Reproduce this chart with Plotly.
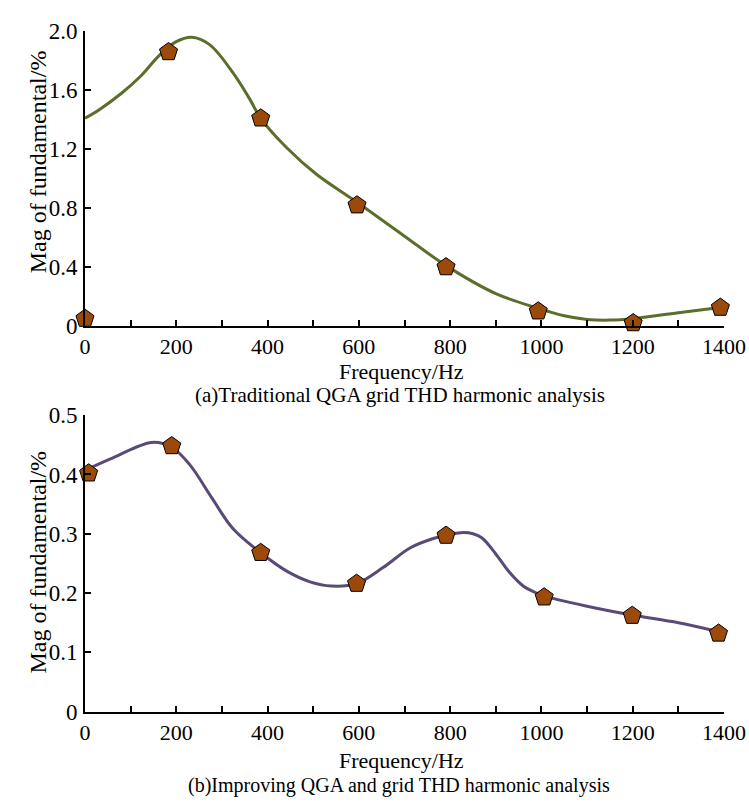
import plotly.graph_objects as go

# ---------------- data ----------------
# Panel (a): traditional QGA
a_marker_freq = [0, 183, 385, 596, 791, 993, 1201, 1392]
a_marker_mag = [0.05, 1.86, 1.41, 0.82, 0.40, 0.10, 0.02, 0.125]
a_curve_freq = [0, 32, 80, 120, 164, 200, 234, 273, 324, 361, 385, 442, 507,
                596, 700, 791, 900, 993, 1050, 1100, 1150, 1201, 1300, 1392]
a_curve_mag = [1.41, 1.47, 1.58, 1.69, 1.84, 1.93, 1.96, 1.91, 1.72, 1.54, 1.41,
               1.21, 1.03, 0.84, 0.61, 0.41, 0.22, 0.12, 0.07, 0.045, 0.04, 0.05,
               0.09, 0.125]

# Panel (b): improved QGA
b_marker_freq = [8, 190, 385, 595, 791, 1006, 1199, 1388]
b_marker_mag = [0.402, 0.448, 0.268, 0.216, 0.297, 0.193, 0.162, 0.132]
b_curve_freq = [0, 61, 146, 190, 229, 280, 324, 385, 442, 493, 540, 595, 653,
                712, 763, 800, 829, 850, 870, 900, 930, 960, 990, 1006, 1100,
                1199, 1300, 1388]
b_curve_mag = [0.407, 0.428, 0.454, 0.446, 0.417, 0.358, 0.309, 0.268, 0.237,
               0.219, 0.212, 0.216, 0.243, 0.276, 0.292, 0.299, 0.302, 0.300,
               0.293, 0.266, 0.235, 0.212, 0.200, 0.195, 0.178, 0.163, 0.150,
               0.135]

x_tickvals = [0, 200, 400, 600, 800, 1000, 1200, 1400]
x_ticktext = ["0", "200", "400", "600", "800", "1000", "1200", "1400"]
a_yticks = [0, 0.4, 0.8, 1.2, 1.6, 2.0]
a_yticktext = ["0", "0.4", "0.8", "1.2", "1.6", "2.0"]
b_yticks = [0, 0.1, 0.2, 0.3, 0.4, 0.5]
b_yticktext = ["0", "0.1", "0.2", "0.3", "0.4", "0.5"]

# ---------------- styles ----------------
W, H = 749, 811
FONT = "Liberation Serif"
FS = 22
MARKER_FILL = "#9c4a0a"
A_LINE = "#5b6e2c"
B_LINE = "#5a4a78"

fig = go.Figure()

fig.add_trace(go.Scatter(x=a_curve_freq, y=a_curve_mag, mode="lines",
                         line=dict(color=A_LINE, width=3, shape="spline", smoothing=1.0),
                         xaxis="x", yaxis="y", showlegend=False, hoverinfo="skip"))
fig.add_trace(go.Scatter(x=a_marker_freq, y=a_marker_mag, mode="markers",
                         marker=dict(symbol="pentagon", size=19, color=MARKER_FILL,
                                     line=dict(color="black", width=1)),
                         xaxis="x", yaxis="y", showlegend=False, cliponaxis=False))
fig.add_trace(go.Scatter(x=b_curve_freq, y=b_curve_mag, mode="lines",
                         line=dict(color=B_LINE, width=3, shape="spline", smoothing=1.0),
                         xaxis="x2", yaxis="y2", showlegend=False, hoverinfo="skip"))
fig.add_trace(go.Scatter(x=b_marker_freq, y=b_marker_mag, mode="markers",
                         marker=dict(symbol="pentagon", size=19, color=MARKER_FILL,
                                     line=dict(color="black", width=1)),
                         xaxis="x2", yaxis="y2", showlegend=False, cliponaxis=False))

def px_dom(top_px, bot_px):
    return [1 - bot_px / H, 1 - top_px / H]

xaxis_common = dict(range=[0, 1400], tickvals=x_tickvals, ticktext=x_ticktext,
                    ticks="inside", ticklen=6, tickwidth=1.5, tickcolor="black",
                    showline=True, linecolor="black", linewidth=2,
                    showgrid=False, zeroline=False,
                    tickfont=dict(family=FONT, size=FS, color="black"),
                    ticklabelstandoff=0,
                    minor=dict(dtick=100, tick0=0, ticks="inside", ticklen=6,
                               tickwidth=1.5, tickcolor="black", showgrid=False))
yaxis_common = dict(ticks="inside", ticklen=6, tickwidth=1.5, tickcolor="black",
                    showline=True, linecolor="black", linewidth=2,
                    showgrid=False, zeroline=False,
                    tickfont=dict(family=FONT, size=23, color="black"),
                    ticklabelstandoff=1)

fig.update_layout(
    width=W, height=H,
    margin=dict(l=85, r=25, t=0, b=0),
    paper_bgcolor="white", plot_bgcolor="white",
    font=dict(family=FONT, size=FS, color="black"),
    xaxis=dict(domain=[0, 1], anchor="y", **xaxis_common),
    yaxis=dict(domain=px_dom(20, 324), anchor="x", range=[0, 2.0],
               tickvals=a_yticks, ticktext=a_yticktext, **yaxis_common),
    xaxis2=dict(domain=[0, 1], anchor="y2", **xaxis_common),
    yaxis2=dict(domain=px_dom(416, 722), anchor="x2", range=[0, 0.5],
                tickvals=b_yticks, ticktext=b_yticktext, **yaxis_common),
)

def ann(text, xpx, ypx, angle=0, size=FS):
    fig.add_annotation(text=text, xref="paper", yref="paper",
                       x=(xpx - 85) / (W - 85 - 25), y=1 - ypx / H,
                       xanchor="center", yanchor="middle", showarrow=False,
                       textangle=angle, font=dict(family=FONT, size=size, color="black"))

ann("Frequency/Hz", 401, 371, size=22)
ann("(a)Traditional QGA grid THD harmonic analysis", 400, 395, size=21)
ann("Mag of fundamental/%", 38, 155, angle=-90, size=24)
ann("Frequency/Hz", 401, 772, size=22)
ann("(b)Improving QGA and grid THD harmonic analysis", 399, 798, size=20)
ann("Mag of fundamental/%", 38, 568, angle=-90, size=24)

fig.write_html("out.html")
